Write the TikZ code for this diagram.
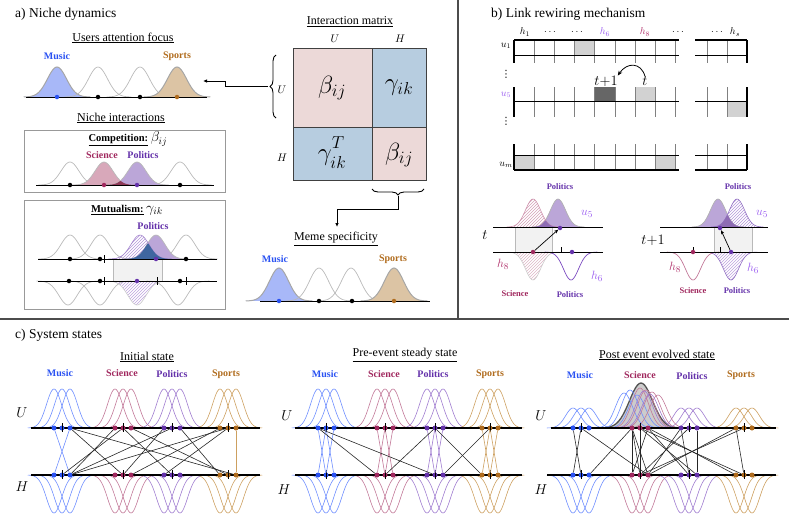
\documentclass[tikz,border=0pt]{standalone}
\usepackage{fontspec}
\setmainfont{Liberation Serif}
\newfontfamily\djv{DejaVu Sans}
\usetikzlibrary{patterns,decorations.pathreplacing,arrows.meta}
\definecolor{cmus}{HTML}{2A52F2}
\definecolor{csci}{HTML}{A0285E}
\definecolor{cpol}{HTML}{6432AA}
\definecolor{cspo}{HTML}{B06C1E}
\definecolor{lmus}{HTML}{6E8EFF}
\definecolor{lsci}{HTML}{C27898}
\definecolor{lpol}{HTML}{A07CD0}
\definecolor{lspo}{HTML}{CDA060}
\definecolor{mpink}{HTML}{ECD9D8}
\definecolor{mblue}{HTML}{B7CDE0}
\definecolor{fmus}{HTML}{A8B8F8}
\definecolor{fspo}{HTML}{DCC4A4}
\definecolor{fsci}{HTML}{D8A8BA}
\definecolor{fpol}{HTML}{BBA6D8}
\definecolor{ovred}{HTML}{8E3A58}
\definecolor{ovblue}{HTML}{3F66A0}
\definecolor{ovpur}{HTML}{8E6CB4}
\definecolor{vio}{HTML}{9A5CF0}
\definecolor{pk}{HTML}{B0306A}
% gaussian: mu, base, height, sigma, style
\newcommand\gc[5]{\path[#5] plot[domain=#1-3.5*#4:#1+3.5*#4,samples=45,smooth] (\x,{#2-(#3)*exp(-0.5*((\x-#1)/#4)*((\x-#1)/#4))});}
% overlap (min) of two gaussians: mu1<mu2, base, height, sigma, style
\newcommand\gmin[6]{\path[#6] plot[domain=#2-3.5*#5:#1+3.5*#5,samples=40,smooth] (\x,{#3-(#4)*min(exp(-0.5*((\x-#1)/#5)*((\x-#1)/#5)),exp(-0.5*((\x-#2)/#5)*((\x-#2)/#5)))});}
% three shifted curves: center, height, base, colour
\newcommand\tU[4]{\foreach \dd in {-8,0,8}{\pgfmathsetmacro\mm{#1+(\dd)}\gc{\mm}{#3}{#2}{7.5}{draw=#4,line width=0.6pt}}}
% three dots + tick: name prefix, center, y, colour
\newcommand\mkdots[4]{\foreach \k/\dd in {1/-8,2/0,3/8}{\node[cdot,fill=#4] (#1\k) at ({#2+(\dd)},#3) {};}\draw[line width=0.9pt] (#2,#3-5) -- (#2,#3+4);}
\begin{document}
\begin{tikzpicture}[x=1pt,y=-1pt,
 lab/.style={font=\fontsize{10}{12}\selectfont\bfseries,inner sep=0pt},
 slab/.style={font=\fontsize{8.5}{10}\selectfont\bfseries,inner sep=0pt},
 ttl/.style={font=\fontsize{12}{14}\selectfont,inner sep=0pt},
 hd/.style={font=\fontsize{13.5}{16}\selectfont,anchor=west,inner sep=0pt},
 mth/.style={font=\fontsize{14}{16}\selectfont,inner sep=0pt},
 mtx/.style={font=\fontsize{24}{28}\selectfont,inner sep=0pt},
 sub/.style={font=\fontsize{10}{12}\selectfont,inner sep=0pt},
 dot/.style={circle,inner sep=0pt,minimum size=4.5pt},
 cdot/.style={circle,inner sep=0pt,minimum size=5pt},
 base/.style={line width=1pt},
 cbase/.style={line width=1.5pt},
 link/.style={line width=0.6pt,black!85},
 boxst/.style={draw=gray!80,line width=1pt},
 wcur/.style={draw=gray!55,line width=0.7pt},
 vg/.style={draw=black!50,line width=1pt},
 hg/.style={draw=black,line width=0.8pt},
 tk/.style={draw=black,line width=1.6pt},
 tick/.style={line width=0.9pt}]
\useasboundingbox (0,0) rectangle (789,528);
% dividers
\draw[gray!60!black,line width=1.2pt] (458,0) -- (458,319);
\draw[gray!60!black,line width=1.2pt] (0,319) -- (789,319);

%================ panel a
\node[hd] (ha) at (15,14) {a) Niche dynamics};
\node[ttl] (uaf) at (123,38) {\underline{Users attention focus}};
\node[lab,text=cmus] (uafm) at (57,56) {Music};
\node[lab,text=cspo] (uafs) at (177,56) {Sports};
\gc{57}{97}{30}{9.5}{fill=fmus,draw=gray!70,line width=1pt}
\gc{98}{97}{30}{9.5}{wcur}
\gc{140}{97}{30}{9.5}{wcur}
\gc{177}{97}{30}{9.5}{fill=fspo,draw=gray!70,line width=1pt}
\draw[base] (26,97) -- (207,97);
\node[dot,fill=cmus] (ua1) at (57,97) {};
\node[dot,fill=black] (ua2) at (98,97) {};
\node[dot,fill=black] (ua3) at (140,97) {};
\node[dot,fill=cspo] (ua4) at (177,97) {};

\node[ttl] (nint) at (121,118) {\underline{Niche interactions}};
% competition
\draw[boxst] (24,130) rectangle (225,192);
\node[font=\fontsize{10.5}{12}\selectfont,inner sep=0pt] (comp) at (128,139) {\textbf{\underline{Competition:}} {\fontsize{14}{15}\selectfont$\beta_{ij}$}};
\node[lab,text=csci] (cs) at (102,155) {Science};
\node[lab,text=cpol] (cp) at (143,155) {Politics};
\gc{70}{185}{23}{9}{wcur}
\gc{180}{185}{23}{9}{wcur}
\gc{104}{185}{23}{9}{fill=fsci,draw=gray!55,line width=0.7pt}
\gc{137}{185}{23}{9}{fill=fpol,draw=gray!55,line width=0.7pt}
\gmin{104}{137}{185}{23}{9}{fill=ovred}
\draw[base] (36,185) -- (214,185);
\node[dot,fill=black] (cd1) at (70,185) {};
\node[dot,fill=csci] (cd2) at (104,185) {};
\node[dot,fill=cpol] (cd3) at (137,185) {};
\node[dot,fill=black] (cd4) at (180,185) {};
% mutualism
\draw[boxst] (24,200) rectangle (225,309);
\node[font=\fontsize{10.5}{12}\selectfont,inner sep=0pt] (mut) at (127,210) {\textbf{\underline{Mutualism:}} {\fontsize{14}{15}\selectfont$\gamma_{ik}$}};
\node[lab,text=cpol] (mp) at (153,226) {Politics};
\fill[gray!10] (113,259) rectangle (162,281);
\draw[gray!55] (113,259) rectangle (162,281);
\gc{70}{259}{24}{9}{wcur}
\gc{100}{259}{24}{9}{wcur}
\gc{186}{259}{24}{9}{wcur}
\gc{156}{259}{24}{9}{fill=fpol,draw=gray!55,line width=0.7pt}
\gc{140}{259}{24}{9}{pattern=north east lines,pattern color=lpol!80,draw=cpol!60,line width=0.6pt}
\gmin{140}{156}{259}{24}{9}{fill=ovblue}
\gc{68}{281}{-24}{9}{wcur}
\gc{100}{281}{-24}{9}{wcur}
\gc{178}{281}{-24}{9}{wcur}
\gc{137}{281}{-24}{9}{pattern=north east lines,pattern color=lpol!70,draw=gray!40,line width=0.6pt}
\draw[base] (38,259) -- (217,259);
\draw[base] (38,281) -- (217,281);
\node[dot,fill=black] (mu1) at (70,259) {};
\node[dot,fill=black] (mu2) at (100,259) {};
\node[dot,fill=cpol] (mu3) at (156,259) {};
\node[dot,fill=black] (mu4) at (186,259) {};
\node[dot,fill=black] (ml1) at (69,281) {};
\node[dot,fill=black] (ml2) at (100,281) {};
\node[dot,fill=cpol] (ml3) at (137,281) {};
\node[dot,fill=black] (ml4) at (180,281) {};
\draw[tick] (104,255) -- (104,263);
\draw[tick] (104,277) -- (104,285);
\draw[tick] (157,277) -- (157,285);
\draw[tick] (186,277) -- (186,285);

% matrix
\node[ttl] (imx) at (350,22) {\underline{Interaction matrix}};
\node[font=\fontsize{11}{13}\selectfont,inner sep=0pt] (cU) at (335,39) {$U$};
\node[font=\fontsize{11}{13}\selectfont,inner sep=0pt] (cH) at (400,39) {$H$};
\node[font=\fontsize{11}{13}\selectfont,inner sep=0pt] (rU) at (282,90) {$U$};
\node[font=\fontsize{11}{13}\selectfont,inner sep=0pt] (rH) at (282,158) {$H$};
\fill[mpink] (293,48) rectangle (372,127);
\fill[mblue] (372,48) rectangle (426,127);
\fill[mblue] (293,127) rectangle (372,180);
\fill[mpink] (372,127) rectangle (426,180);
\draw[line width=1pt,black!75] (293,48) rectangle (426,180);
\draw[line width=1pt,black!75] (372,48) -- (372,180);
\draw[line width=1pt,black!75] (293,127) -- (426,127);
\node[mtx] (m11) at (332,88) {$\beta_{ij}$};
\node[mtx] (m12) at (399,88) {$\gamma_{ik}$};
\node[mtx] (m21) at (332,153) {$\gamma^{\raisebox{3pt}{$\scriptstyle T$}}_{\raisebox{-2pt}{$\scriptstyle ik$}}$};
\node[mtx] (m22) at (399,155) {$\beta_{ij}$};
\draw[decorate,decoration={brace,amplitude=6pt},line width=0.9pt] (276,118) -- (276,55);
\draw[decorate,decoration={brace,amplitude=6pt},line width=0.9pt] (424,189) -- (372,189);
\coordinate (bU) at (268,86);
\coordinate (uafA) at (203,81);
\draw[-{Latex[length=4pt,width=3.5pt]},line width=0.8pt] (bU) -- (225,86) -- (225,81) -- (uafA);
\coordinate (bB) at (398,196);
\coordinate (msA) at (337,227);
\draw[-{Latex[length=4pt,width=3.5pt]},line width=0.8pt] (bB) -- (398,209) -- (337,209) -- (msA);
\node[ttl] (mspec) at (336,239) {\underline{Meme specificity}};
\node[lab,text=cmus] (msm) at (275,259) {Music};
\node[lab,text=cspo] (mss) at (393,259) {Sports};
\gc{279}{301}{33}{9.5}{fill=fmus,draw=gray!70,line width=1pt}
\gc{319}{301}{33}{9.5}{wcur}
\gc{351}{301}{33}{9.5}{wcur}
\gc{394}{301}{33}{9.5}{fill=fspo,draw=gray!70,line width=1pt}
\draw[base] (260,301) -- (430,301);
\node[dot,fill=cmus] (ms1) at (279,301) {};
\node[dot,fill=black] (ms2) at (319,301) {};
\node[dot,fill=black] (ms3) at (352,301) {};
\node[dot,fill=cspo] (ms4) at (394,301) {};

%================ panel b
\node[hd] (hb) at (491,14) {b) Link rewiring mechanism};
% cells
\fill[gray!35] (574.6,40) rectangle (594.8,55);
\fill[black!60] (594.8,87) rectangle (615,101);
\fill[gray!35] (635.2,87) rectangle (655.4,101);
\fill[gray!35] (727,101) rectangle (747,117);
\fill[gray!35] (514,155) rectangle (534.2,170);
\fill[gray!35] (655.4,155) rectangle (675.6,170);
\foreach \ya/\yb/\ym in {40/63/55,87/117/101,144/170/155}{
  \foreach \k in {1,...,8}{\draw[vg] ({514+20.2*\k},\ya) -- ({514+20.2*\k},\yb);}
  \draw[vg] (707,\ya) -- (707,\yb);
  \draw[vg] (727,\ya) -- (727,\yb);
  \draw[hg] (514,\ym) -- (679,\ym);
  \draw[hg] (695,\ym) -- (747,\ym);
  \draw[tk] (514,\ya) -- (514,\yb);
  \draw[tk] (747,\ya) -- (747,\yb);
}
\draw[tk] (514,40) -- (679,40);
\draw[tk] (695,40) -- (747,40);
\draw[tk] (514,170) -- (679,170);
\draw[tk] (695,170) -- (747,170);
\node[sub] (h1) at (525,32) {$h_1$};
\node[sub] (hd1) at (550,32) {$\dots$};
\node[sub] (hd2) at (577,32) {$\dots$};
\node[sub,text=vio] (h6) at (605,32) {$h_6$};
\node[sub,text=pk] (h8) at (645,32) {$h_8$};
\node[sub] (hd3) at (678,32) {$\dots$};
\node[sub] (hd4) at (717,32) {$\dots$};
\node[sub] (hs) at (735,32) {$h_s$};
\node[sub] (u1) at (506,46) {$u_1$};
\node[sub] (ud1) at (506,74) {\djv ⋮};
\node[sub,text=vio] (u5) at (506,95) {$u_5$};
\node[sub] (ud2) at (506,121) {\djv ⋮};
\node[sub] (um) at (506,165) {$u_m$};
\node[font=\fontsize{14}{16}\selectfont,inner sep=0pt] (tp1) at (606,81) {$t{+}1$};
\node[font=\fontsize{14}{16}\selectfont,inner sep=0pt] (tt) at (645,81) {$t$};
\draw[-{Stealth[length=5pt,width=4pt]},line width=0.8pt] (tt.north) .. controls (641,62) and (627,62) .. (tp1.north east);

% bottom left of b
\fill[gray!10] (515,227) rectangle (552,252);
\draw[gray!55] (515,227) rectangle (552,252);
\gc{558}{227}{28}{7.5}{fill=fpol,draw=gray!60,line width=0.7pt}
\gc{533}{227}{28}{7.5}{pattern=north east lines,pattern color=lsci!70,draw=lsci!80,line width=0.6pt}
\gmin{533}{558}{227}{28}{7.5}{fill=ovpur}
\gc{533}{252}{-28}{7.5}{pattern=north east lines,pattern color=lsci!55,draw=gray!40,line width=0.6pt}
\gc{571}{252}{-28}{7.5}{draw=vio!80!black,line width=0.7pt}
\draw[base] (493,227) -- (603,227);
\draw[base] (493,252) -- (603,252);
\draw[tick] (561,247) -- (561,252);
\node[dot,fill=csci] (bLs) at (533,252) {};
\node[dot,fill=cpol] (bLp) at (560,228) {};
\node[dot,fill=cpol] (bLq) at (572,252) {};
\draw[-{Stealth[length=4pt,width=3.5pt]},line width=0.7pt] (bLs) -- (bLp);
\node[font=\fontsize{15}{16}\selectfont,inner sep=0pt] (tL) at (485,235) {$t$};
\node[slab,text=cpol] (bLpt) at (560,187) {Politics};
\node[font=\fontsize{13}{15}\selectfont,inner sep=0pt,text=vio] (bLu) at (587,214) {$u_5$};
\node[font=\fontsize{13}{15}\selectfont,inner sep=0pt,text=pk] (bLh8) at (503,264) {$h_8$};
\node[font=\fontsize{13}{15}\selectfont,inner sep=0pt,text=vio] (bLh6) at (597,276) {$h_6$};
\node[slab,text=csci] (bLsc) at (515,294) {Science};
\node[slab,text=cpol] (bLpo) at (570,295) {Politics};

% bottom right of b
\fill[gray!10] (714,227) rectangle (752,252);
\draw[gray!55] (714,227) rectangle (752,252);
\gc{718}{227}{28}{7.5}{fill=fpol,draw=gray!60,line width=0.7pt}
\gc{737}{227}{28}{7.5}{pattern=north east lines,pattern color=lpol!80,draw=cpol!70,line width=0.6pt}
\gmin{718}{737}{227}{28}{7.5}{fill=ovpur}
\gc{693}{252}{-28}{7.5}{draw=lsci,line width=0.7pt}
\gc{731}{252}{-28}{7.5}{pattern=north east lines,pattern color=lpol!70,draw=cpol!70,line width=0.6pt}
\draw[base] (660,227) -- (768,227);
\draw[base] (660,252) -- (768,252);
\draw[tick] (693,247) -- (693,252);
\draw[tick] (720,247) -- (720,252);
\node[dot,fill=cpol] (bRp) at (720,228) {};
\node[dot,fill=csci] (bRs) at (693,252) {};
\node[dot,fill=cpol] (bRq) at (731,252) {};
\draw[-{Stealth[length=4pt,width=3.5pt]},line width=0.7pt] (bRq) -- (bRp);
\node[font=\fontsize{15}{16}\selectfont,inner sep=0pt] (tR) at (653,240) {$t{+}1$};
\node[slab,text=cpol] (bRpt) at (738,187) {Politics};
\node[font=\fontsize{13}{15}\selectfont,inner sep=0pt,text=vio] (bRu) at (762,214) {$u_5$};
\node[font=\fontsize{13}{15}\selectfont,inner sep=0pt,text=pk] (bRh8) at (675,267) {$h_8$};
\node[font=\fontsize{13}{15}\selectfont,inner sep=0pt,text=vio] (bRh6) at (753,268) {$h_6$};
\node[slab,text=csci] (bRsc) at (693,291) {Science};
\node[slab,text=cpol] (bRpo) at (737,291) {Politics};

%================ panel c
\node[hd] (hc) at (15,335) {c) System states};
% ---- left
\node[ttl] (tI) at (147,357) {\underline{Initial state}};
\node[lab,text=cmus] (lm) at (60,373) {Music};
\node[lab,text=csci] (ls) at (122,373) {Science};
\node[lab,text=cpol] (lp) at (172,374) {Politics};
\node[lab,text=cspo] (lo) at (226,374) {Sports};
\node[mth] (lU) at (22,413) {$U$};
\node[mth] (lH) at (22,487) {$H$};
\foreach \c/\col in {62/lmus,123/lsci,172/lpol,228/lspo}{\tU{\c}{39}{428}{\col}\tU{\c}{-38}{475}{\col}}
\draw[cbase] (31,428) -- (260,428);
\draw[cbase] (31,475) -- (260,475);
\foreach \c/\tp/\col in {62/m/cmus,123/s/csci,172/p/cpol,228/o/cspo}{\mkdots{LU\tp}{\c}{428}{\col}\mkdots{LH\tp}{\c}{475}{\col}}
\draw[lmus,line width=0.6pt] (LUm1) -- (LHm3);
\draw[lmus,line width=0.6pt] (LUm3) -- (LHm1);
\draw[lspo,line width=0.6pt] (LUo3) -- (LHo3);
\foreach \a/\b in {LUm3/LHs2,LUm3/LHo3,LUs1/LHm3,LUs2/LHp2,LUs3/LHo2,LUp2/LHm3,LUp1/LHs2,LUp3/LHo1,LUo2/LHm3,LUo1/LHs3,LUo2/LHp1,LUs2/LHm2}{\draw[link] (\a) -- (\b);}

% ---- middle
\node[ttl] (tP) at (405,355) {\underline{Pre-event steady state}};
\node[lab,text=cmus] (mm) at (325,374) {Music};
\node[lab,text=csci] (ms) at (384,374) {Science};
\node[lab,text=cpol] (mpo) at (433,374) {Politics};
\node[lab,text=cspo] (mo) at (490,374) {Sports};
\node[mth] (mU) at (287,416) {$U$};
\node[mth] (mH) at (284,490) {$H$};
\foreach \c/\col in {326/lmus,385/lsci,435/lpol,490/lspo}{\tU{\c}{39}{428}{\col}\tU{\c}{-38}{475}{\col}}
\draw[cbase] (295,428) -- (522,428);
\draw[cbase] (295,475) -- (522,475);
\foreach \c/\tp/\col in {326/m/cmus,385/s/csci,435/p/cpol,490/o/cspo}{\mkdots{MU\tp}{\c}{428}{\col}\mkdots{MH\tp}{\c}{475}{\col}}
\foreach \tp/\col in {m/lmus,s/lsci,p/lpol,o/lspo}{\foreach \a/\b in {1/2,2/1,2/3,3/2}{\draw[\col,line width=0.6pt] (MU\tp\a) -- (MH\tp\b);}}
\foreach \a/\b in {MUm1/MHp2,MUm1/MHs1,MUp2/MHs2,MUp2/MHo1,MUo2/MHp3}{\draw[link] (\a) -- (\b);}

% ---- right
\node[ttl] (tE) at (657,355) {\underline{Post event evolved state}};
\node[lab,text=cmus] (rm) at (580,375) {Music};
\node[lab,text=csci] (rs) at (640,375) {Science};
\node[lab,text=cpol] (rp) at (692,376) {Politics};
\node[lab,text=cspo] (ro) at (741,375) {Sports};
\node[mth] (rU) at (541,416) {$U$};
\node[mth] (rH) at (541,490) {$H$};
\foreach \c/\col in {581/lmus,689/lpol,744/lspo}{\tU{\c}{20}{428}{\col}}
\foreach \c/\col in {581/lmus,640/lsci,689/lpol,744/lspo}{\tU{\c}{-38}{475}{\col}}
\gc{641}{428}{45}{11.5}{fill=gray!40,draw=gray!65!black,line width=1.3pt}
\foreach \m/\h/\col in {624/35/lmus,630/38/lmus,637/33/lmus,640/40/lsci,646/38/lsci,652/36/lsci,658/33/lsci,644/37/lpol,650/34/lpol}{\gc{\m}{428}{\h}{8.5}{draw=\col,line width=0.6pt}}
\draw[cbase] (551,428) -- (776,428);
\draw[cbase] (547,475) -- (776,475);
\foreach \c/\tp/\col in {581/m/cmus,640/s/csci,689/p/cpol,744/o/cspo}{\mkdots{RU\tp}{\c}{428}{\col}\mkdots{RH\tp}{\c}{475}{\col}}
\foreach \a/\b in {RUm1/RHm2,RUm2/RHm1,RUm2/RHs3,RUs1/RHm3,RUs1/RHs1,RUs2/RHs2,RUs1/RHs3,RUs3/RHs1,RUs2/RHp3,RUs3/RHp2,RUs3/RHo1,RUs2/RHo2,RUp1/RHs3,RUp2/RHs2,RUp1/RHp2,RUp3/RHp3,RUo1/RHs3,RUo2/RHs2,RUo1/RHo2,RUs1/RHs2}{\draw[link] (\a) -- (\b);}
\end{tikzpicture}
\end{document}
